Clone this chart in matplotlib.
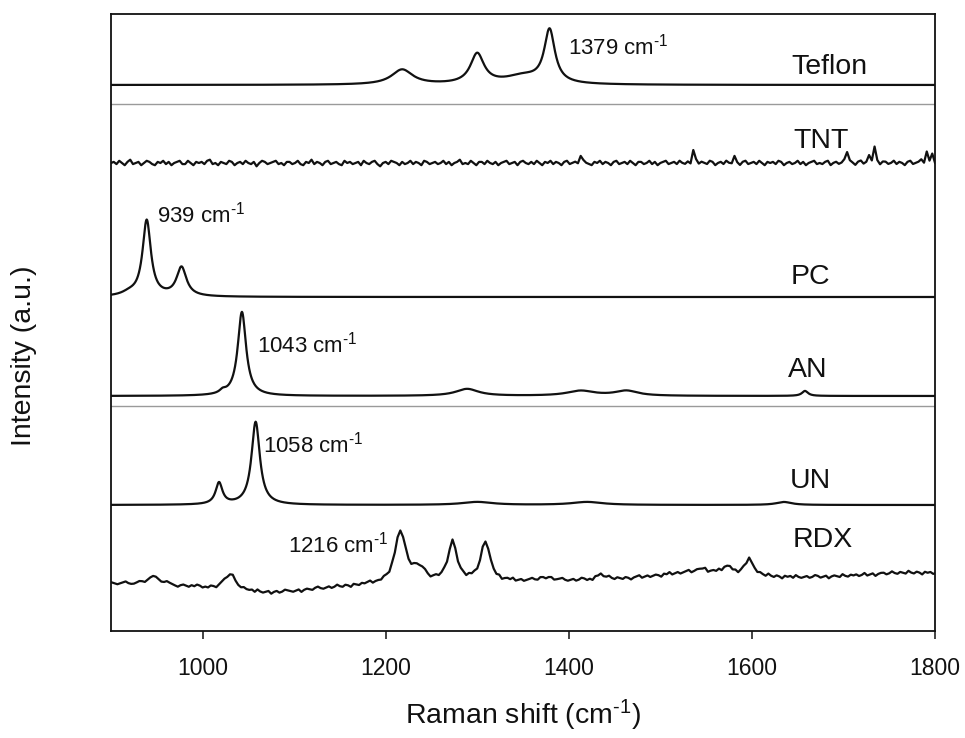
import numpy as np
import matplotlib
matplotlib.use("Agg")
import matplotlib.pyplot as plt

plt.rcParams['font.family'] = ['Liberation Sans', 'DejaVu Sans']
plt.rcParams['mathtext.fontset'] = 'custom'
plt.rcParams['mathtext.rm'] = 'Liberation Sans'
plt.rcParams['mathtext.it'] = 'Liberation Sans:italic'
plt.rcParams['mathtext.bf'] = 'Liberation Sans:bold'

# ---------------------------------------------------------------- data
x_range = (900, 1800)
x_ticks = [1000, 1200, 1400, 1600, 1800]

names = ['Teflon', 'TNT', 'PC', 'AN', 'UN', 'RDX']
offsets = [546, 468, 334, 235, 126, 49]          # vertical stacking offsets (a.u.)
separators = [526.7, 225.3]                       # thin grey dividers

# Raman bands: (centre cm-1, height a.u., half width cm-1)
teflon_peaks = [(1218, 15, 14), (1300, 30, 9), (1350, 8, 24), (1379, 53, 7)]
tnt_peaks = [(1413, 6, 1.2), (1536, 13, 1.2), (1581, 6, 1.2), (1704, 12, 1.2),
             (1728, 6, 1.2), (1734, 14, 1.5), (1791, 9, 1.2), (1797, 8, 1.2)]
pc_peaks = [(920, 3, 10), (939, 76, 5.5), (977, 29, 6.5)]
an_peaks = [(1022, 3, 4), (1043, 84, 5.5), (1289, 7, 15), (1413, 5, 18),
            (1463, 5, 15), (1658, 5, 4)]
un_peaks = [(1018, 21.5, 4.5), (1058, 83, 5.5), (1300, 3, 20), (1420, 3, 20),
            (1635, 3, 10)]
rdx_peaks = [(946, 8, 10), (1030, 16, 8), (1070, -11, 80), (1216, 52, 7),
             (1236, 13, 8), (1273, 39, 6), (1309, 40, 6), (1375, 4, 8),
             (1435, 5, 6), (1540, 9, 60), (1546, 4, 5), (1573, 8, 5),
             (1597, 16, 6), (1780, 9, 90)]

# detector noise of the weak spectra, one value per 3 cm-1 step
tnt_noise = [
    0, 1, -1, 2, 0, -2, 1, 3, -1, 0, 1, -2, 0, 2, 1, -1, -2, 1, 0, 2, -1, 1, -2, 0, 1, 2, -1, -1, 2, 0,
    -2, 1, 0, 1, -1, 2, 3, -1, 0, -2, 1, 0, -1, 2, 1, -2, 0, 1, -1, 2, 0, -1, 1, -3, 0, 2, 1, -1, 0, 1,
    2, -1, 0, -2, 1, 1, -1, 0, 2, -1, -2, 1, 0, 3, -1, 1, 0, -2, 1, 2, -1, 0, 1, -1, -2, 2, 0, 1, -1, 0,
    1, -2, 2, 0, -1, 1, 2, -1, -3, 0, 1, -1, 2, 1, 0, -2, 1, -1, 0, 2, -1, 1, 0, -2, 2, 1, -1, 0, 1, -1,
    0, 2, -1, 1, -2, 0, 1, 3, -1, 0, -1, 2, 0, -2, 1, 1, -1, 2, 0, -1, 1, -2, 0, 1, 2, -1, 0, 1, -2, 1,
    2, 0, -1, 1, -1, 2, 0, -2, 1, 0, 2, -1, 1, 0, -2, 1, 2, -1, 0, 1, -1, 1, 2, 0, -1, -2, 1, 0, 2, -1,
    1, 0, -2, 1, 2, -1, 0, 1, -1, 2, 0, -2, 1, 1, -1, 0, 2, -1, 1, -2, 0, 1, 2, -1, 0, 1, -1, 2, 0, -1,
    1, -2, 0, 2, -1, 1, 0, -1, 2, 1, -2, 0, 1, -1, 2, 0, -1, 1, 0, -2, 1, 2, -1, 0, 1, -1, 2, 0, -2, 1,
    0, 1, -1, 2, 1, -2, 0, 1, -1, 0, 2, -1, 1, -2, 0, 1, 2, -1, 0, -1, 1, 2, -2, 0, 1, -1, 0, 2, -1, 1,
    0, -2, 1, 2, -1, 0, 1, -1, 2, 0, -2, 1, 1, -1, 0, 2, -1, 1, 0, -2, 1, 2, -1, 0, 1, 3, -1, 2, 0, 1, -1,
]
rdx_noise = [
    1, 0, -1, 0, 1, 2, 0, -1, -1, 0, 1, 0, -2, -1, 0, 1, 1, 0, -1, 0, 2, 1, 0, -1, -2, 0, 1, 0, -1, 1,
    0, 2, 1, -1, 0, -1, 1, 0, -2, 0, 1, 1, -1, 0, 2, 0, -1, -1, 1, 0, 0, 1, -1, 2, 0, -1, 0, 1, -2, 0,
    1, -1, 0, 2, 1, 0, -1, 0, 1, -2, 0, 1, 0, -1, 1, 2, 0, -1, 0, 1, -1, 0, 2, 0, -1, 1, 0, -2, 1, 0,
    -1, 1, 0, 1, 2, -1, 0, 0, -1, 1, 0, -2, 1, 0, 1, -1, 0, 2, 0, -1, 1, 0, -1, 1, 2, 0, -2, 0, 1, -1,
    0, 1, -1, 0, 2, 1, -1, 0, 0, -2, 1, 0, 1, -1, 0, 2, -1, 0, 1, 0, -1, 1, -2, 0, 1, 0, 2, -1, 0, 1,
    -1, 0, 1, 2, 0, -1, 1, 0, -2, 0, 1, -1, 0, 1, 2, 0, -1, 0, 1, -1, 0, 2, 1, -1, 0, -2, 1, 0, 1, -1,
    0, 2, 0, -1, 1, 0, -1, 1, 0, -2, 0, 1, 2, -1, 0, 1, -1, 0, 1, 0, -2, 1, 0, 2, -1, 0, 1, -1, 0, 1,
    2, -1, 0, 1, 0, -1, 1, -2, 0, 1, 0, 2, -1, 0, -1, 1, 0, 1, -2, 0, 1, -1, 2, 0, 0, -1, 1, 0, -1, 2,
    0, -1, 1, 0, -2, 1, 0, 1, -1, 2, 0, -1, 0, 1, -1, 0, 2, 1, -1, 0, 1, -2, 0, 1, 0, -1, 2, 0, -1, 1,
    0, 1, -1, 0, 2, -1, 0, 1, -2, 0, 1, 1, -1, 0, 2, 0, -1, 1, 0, -1, 2, 0, -1, 1, 0, -2, 1, 0, 1, -1, 0,
]

# labelled band positions (cm-1) and where their labels sit
peak_labels = [1379, 939, 1043, 1058, 1216]
peak_label_pos = [(1398.7, 577, 'left'), (950.3, 409, 'left'), (1059.7, 278, 'left'),
                  (1066.2, 178, 'left'), (1202.9, 78.3, 'right')]
name_label_pos = [(1643, 557), (1645, 482.7), (1642, 347), (1639, 254),
                  (1641.5, 143), (1645, 84)]


# ---------------------------------------------------------------- helpers
def bands(x, peaks):
    y = np.zeros_like(x, dtype=float)
    for c, h, w in peaks:
        y += h / (1.0 + ((x - c) / w) ** 2)
    return y


def wavenumber_label(v):
    return f'{v} cm' + r'$^{\text{-}1}$'


fine_x = np.arange(900, 1800.01, 0.5)
tnt_x = np.arange(900, 1801, 3)
rdx_x = np.arange(901, 1802, 3)

curves = [
    (fine_x, offsets[0] + bands(fine_x, teflon_peaks)),
    (tnt_x, offsets[1] + bands(tnt_x, tnt_peaks) + 1.1 * np.array(tnt_noise)),
    (fine_x, offsets[2] + bands(fine_x, pc_peaks)),
    (fine_x, offsets[3] + bands(fine_x, an_peaks)),
    (fine_x, offsets[4] + bands(fine_x, un_peaks)),
    (rdx_x, offsets[5] + bands(rdx_x, rdx_peaks) + 0.9 * np.array(rdx_noise)),
]

# ---------------------------------------------------------------- figure
fig = plt.figure(figsize=(9.65, 7.38), dpi=100)
ax = fig.add_axes([111 / 965, 107 / 738, 824 / 965, 617.5 / 738])

for ys in separators:
    ax.axhline(ys, color='#9a9a9a', lw=1.0, zorder=1)

for xs, ys in curves:
    ax.plot(xs, ys, color='#111111', lw=1.6, zorder=2, clip_on=True)

for v, (tx, ty, ha) in zip(peak_labels, peak_label_pos):
    ax.text(tx, ty, wavenumber_label(v), fontsize=16, ha=ha, va='baseline',
            color='#111111')

for n, (tx, ty) in zip(names, name_label_pos):
    ax.text(tx, ty, n, fontsize=20.5, ha='left', va='baseline', color='#111111')

ax.set_xlim(*x_range)
ax.set_ylim(0, 617.5)
ax.set_xticks(x_ticks)
ax.set_xticklabels([str(t) for t in x_ticks])
ax.set_yticks([])
ax.tick_params(axis='x', direction='out', length=6, width=1.1, pad=13,
               labelsize=16.5, colors='#111111')
for s in ax.spines.values():
    s.set_linewidth(1.3)
    s.set_color('#111111')

fig.text(523 / 965, 1 - 724 / 738, 'Raman shift (cm' + r'$^{\text{-}1}$' + ')',
         fontsize=20.5, ha='center', va='baseline', color='#111111')
fig.text(24.5 / 965, 1 - 356 / 738, 'Intensity (a.u.)', fontsize=20.5,
         rotation=90, ha='center', va='center', color='#111111')

fig.savefig('out.png', dpi=100, facecolor='white')
